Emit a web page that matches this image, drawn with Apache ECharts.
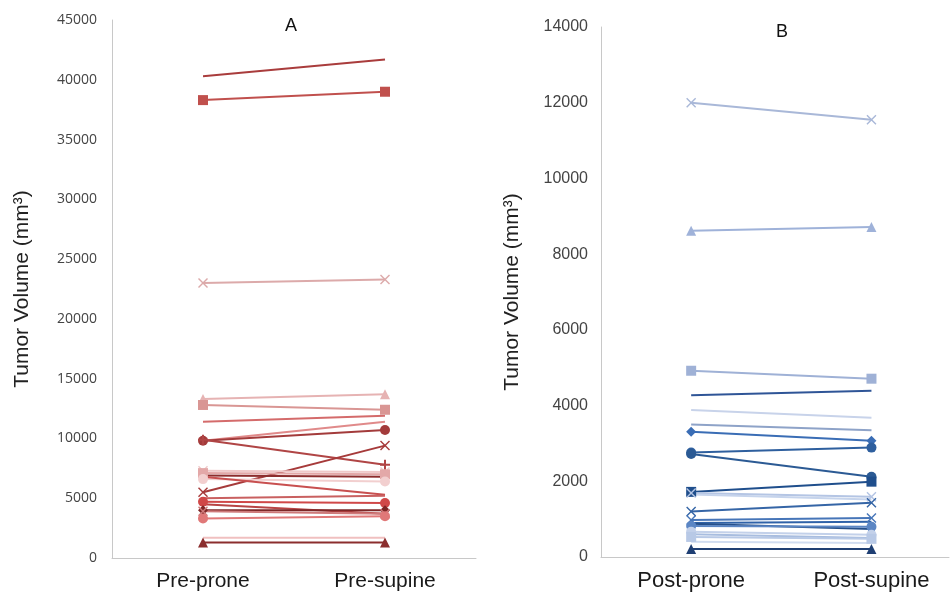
<!DOCTYPE html>
<html>
<head>
<meta charset="utf-8">
<script src="https://cdn.jsdelivr.net/npm/echarts@6/dist/echarts.min.js"></script>
<style>
    html, body { margin: 0; padding: 0; background: #fff; }
    #main { width: 950px; height: 596px; }
</style>
</head>
<body>
<div id="main"></div>
<script>
// categories
var catA = ["Pre-prone", "Pre-supine"];
var catB = ["Post-prone", "Post-supine"];

// panel A values (mm3), one entry per tumour
var aProne = [40300, 38300, 23000, 13300, 12800, 11400, 9800, 9800, 9900, 5500, 7300, 7100, 6900, 6600, 6800, 5000, 4700, 4500, 4000, 3900, 3300, 1700, 1300];
var aSupine = [41700, 39000, 23300, 13700, 12400, 11900, 11400, 10700, 7800, 9400, 7200, 7000, 6800, 6400, 5300, 5200, 4600, 3700, 4000, 3700, 3500, 1700, 1300];

// panel B values (mm3)
var bProne = [12000, 8620, 4920, 4270, 3880, 3500, 3310, 2760, 2720, 1720, 1690, 1650, 1200, 980, 900, 880, 820, 670, 600, 530, 400, 210];
var bSupine = [11550, 8720, 4710, 4390, 3680, 3350, 3070, 2890, 2120, 1990, 1590, 1520, 1430, 1030, 930, 740, 800, 590, 500, 480, 370, 210];

// styling
var CROSS = "path://M0,1L1,0L5,4L9,0L10,1L6,5L10,9L9,10L5,6L1,10L0,9L4,5Z";
var PLUS = "path://M4,0H6V4H10V6H6V10H4V6H0V4H4Z";

var colorsA = ["#a93c3c", "#c0504d", "#dcaaaa", "#e6b3b3", "#d99694", "#d46b6b", "#e08a8a", "#a33b3b", "#b04545", "#a63a3a", "#efc9c9", "#e3a8a8", "#8c2d2d", "#f2cfcf", "#c85050", "#c96060", "#d04848", "#b84444", "#7d2727", "#cf7a7a", "#e07878", "#f0c0c0", "#8b2e2e"];
var symbolsA = ["none", "rect", CROSS, "triangle", "rect", "none", "none", "circle", PLUS, CROSS, CROSS, "rect", "none", "circle", "none", "none", "circle", "none", "diamond", CROSS, "circle", "none", "triangle"];

var colorsB = ["#a9b8d8", "#9fb2d9", "#9fb1d6", "#2f5597", "#c8d3ea", "#8ea3c8", "#3a6db5", "#2e5f9e", "#2b5a94", "#1f4e8c", "#b4c5e4", "#c6d4ec", "#3565a6", "#4675b8", "#2f62a8", "#26508a", "#5b86c4", "#c3d1ea", "#a8bddf", "#b8c9e6", "#d0dcf0", "#1f3f73"];
var symbolsB = [CROSS, "triangle", "rect", "none", "none", "none", "diamond", "circle", "circle", "rect", CROSS, "none", CROSS, CROSS, "none", "none", "circle", "circle", "none", "rect", "none", "triangle"];

var series = [];
for (var i = 0; i < aProne.length; i++) {
    series.push({
        type: "line",
        xAxisIndex: 0,
        yAxisIndex: 0,
        data: [aProne[i], aSupine[i]],
        symbol: symbolsA[i],
        symbolSize: 10,
        showAllSymbol: true,
        lineStyle: { width: 2, color: colorsA[i] },
        itemStyle: { color: colorsA[i] },
        animation: false,
        silent: true
    });
}
// panel B uses a value x axis (0 = prone, 1 = supine) so the right edge can sit at the canvas border
for (var j = 0; j < bProne.length; j++) {
    series.push({
        type: "line",
        xAxisIndex: 1,
        yAxisIndex: 1,
        data: [[0, bProne[j]], [1, bSupine[j]]],
        symbol: symbolsB[j],
        symbolSize: 10,
        showAllSymbol: true,
        lineStyle: { width: 2, color: colorsB[j] },
        itemStyle: { color: colorsB[j] },
        animation: false,
        silent: true
    });
}

var yName = "Tumor Volume (mm\u00b3)";
var plain = function (v) { return String(v); };
var chartDom = document.getElementById("main");
var myChart = echarts.init(chartDom);

var option = {
    backgroundColor: "#fff",
    title: [
        { text: "A", left: 280, top: 12, textStyle: { fontFamily: "Liberation Sans", fontSize: 18, fontWeight: "normal", color: "#111" } },
        { text: "B", left: 771, top: 18, textStyle: { fontFamily: "Liberation Sans", fontSize: 18, fontWeight: "normal", color: "#111" } }
    ],
    grid: [
        { left: 112, top: 20, width: 364, bottom: 38 },
        { left: 601, top: 27, right: 1, bottom: 39 }
    ],
    xAxis: [
        {
            type: "category", gridIndex: 0, data: catA, boundaryGap: true,
            axisLine: { lineStyle: { color: "#c8c8c8", width: 1 } },
            axisTick: { show: false },
            axisLabel: { fontFamily: "Liberation Sans", fontSize: 21, color: "#1a1a1a", margin: 13 }
        },
        {
            type: "value", gridIndex: 1, min: -0.5, max: 1.43,
            axisLine: { show: true, onZero: false, lineStyle: { color: "#c8c8c8", width: 1 } },
            axisTick: { show: false },
            splitLine: { show: false },
            axisLabel: {
                customValues: [0, 1],
                formatter: function (v) { return catB[Math.round(v)]; },
                fontFamily: "Liberation Sans", fontSize: 22, color: "#1a1a1a", margin: 13
            }
        }
    ],
    yAxis: [
        {
            type: "value", gridIndex: 0, min: 0, max: 45000, interval: 5000,
            name: yName, nameLocation: "middle", nameGap: 79,
            nameTextStyle: { fontFamily: "Liberation Sans", fontSize: 21, color: "#222" },
            axisLine: { show: true, lineStyle: { color: "#c8c8c8", width: 1 } },
            axisTick: { show: false },
            splitLine: { show: false },
            axisLabel: { formatter: plain, fontFamily: "Open Sans", fontSize: 14, color: "#444", margin: 15 }
        },
        {
            type: "value", gridIndex: 1, min: 0, max: 14000, interval: 2000,
            name: yName, nameLocation: "middle", nameGap: 78,
            nameTextStyle: { fontFamily: "Liberation Sans", fontSize: 21, color: "#222" },
            axisLine: { show: true, onZero: false, lineStyle: { color: "#c8c8c8", width: 1 } },
            axisTick: { show: false },
            splitLine: { show: false },
            axisLabel: { formatter: plain, fontFamily: "Liberation Sans", fontSize: 16, color: "#444", margin: 13 }
        }
    ],
    series: series
};
myChart.setOption(option);
</script>
</body>
</html>
